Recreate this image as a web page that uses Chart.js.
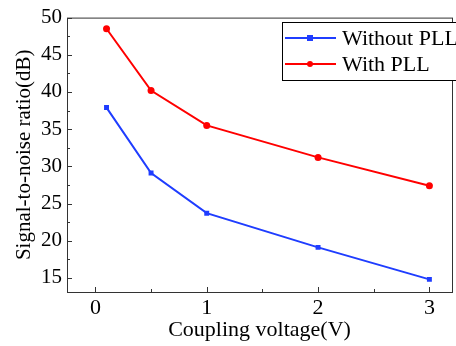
<!DOCTYPE html>
<html>
<head>
<meta charset="utf-8">
<script src="https://cdn.jsdelivr.net/npm/chart.js@4.4.0/dist/chart.umd.min.js"></script>
<style>
  html, body { margin: 0; padding: 0; background: #fff; }
  #wrap { width: 456px; height: 346px; }
</style>
</head>
<body>
<div id="wrap"><canvas id="grafica"></canvas></div>
<script>
const voltajes = [0.1, 0.5, 1, 2, 3];
const sinPLL = [37.9, 29.1, 23.7, 19.1, 14.8];
const conPLL = [48.5, 40.2, 35.5, 31.2, 27.4];
const etiquetas = ['Without PLL', 'With PLL'];
const xTicks = [0, 1, 2, 3];
const yTicks = [15, 20, 25, 30, 35, 40, 45, 50];

const fuente = 'Liberation Serif, Times New Roman, serif';

function puntos(ys) {
  return voltajes.map((x, i) => ({ x: x, y: ys[i] }));
}

// marco, ticks hacia adentro y leyenda con caja
const marco = {
  id: 'marco',
  afterDraw(chart) {
    const { ctx, chartArea: a, scales } = chart;
    const xs = scales.x, ys = scales.y;
    ctx.save();
    ctx.strokeStyle = '#333';
    ctx.lineWidth = 1;
    ctx.strokeRect(a.left + 0.5, a.top + 0.5, a.right - a.left, a.bottom - a.top);

    ctx.beginPath();
    for (let v = 0; v <= 3; v += 0.5) {
      const px = Math.round(xs.getPixelForValue(v)) + 0.5;
      const len = Number.isInteger(v) ? 5 : 3;
      ctx.moveTo(px, a.bottom);
      ctx.lineTo(px, a.bottom - len);
    }
    for (let v = 15; v <= 50; v += 2.5) {
      const py = Math.round(ys.getPixelForValue(v)) + 0.5;
      const len = v % 5 === 0 ? 5 : 3;
      ctx.moveTo(a.left, py);
      ctx.lineTo(a.left + len, py);
    }
    ctx.stroke();

    // leyenda
    const bx = 282, by = 22, bw = 180, bh = 58;
    ctx.strokeStyle = '#000';
    ctx.fillStyle = '#fff';
    ctx.fillRect(bx, by, bw, bh);
    ctx.strokeRect(bx + 0.5, by + 0.5, bw, bh);
    chart.data.datasets.forEach((ds, i) => {
      const ly = 38 + i * 26;
      ctx.strokeStyle = ds.borderColor;
      ctx.lineWidth = 2;
      ctx.beginPath();
      ctx.moveTo(285, ly);
      ctx.lineTo(336, ly);
      ctx.stroke();
      ctx.fillStyle = ds.borderColor;
      if (ds.pointStyle === 'rect') {
        ctx.fillRect(307, ly - 3, 6, 6);
      } else {
        ctx.beginPath();
        ctx.arc(310, ly, 3, 0, Math.PI * 2);
        ctx.fill();
      }
      ctx.fillStyle = '#000';
      ctx.font = '22px ' + fuente;
      ctx.textBaseline = 'middle';
      ctx.fillText(ds.label, 342, ly + 1);
    });
    ctx.restore();
  }
};

new Chart(document.getElementById('grafica'), {
  type: 'scatter',
  data: {
    datasets: [
      {
        label: etiquetas[0],
        data: puntos(sinPLL),
        showLine: true,
        borderColor: '#1f3dff',
        backgroundColor: '#1f3dff',
        borderWidth: 2,
        pointStyle: 'rect',
        pointRadius: 3.5,
        pointBorderWidth: 0
      },
      {
        label: etiquetas[1],
        data: puntos(conPLL),
        showLine: true,
        borderColor: '#ff0000',
        backgroundColor: '#ff0000',
        borderWidth: 2,
        pointStyle: 'circle',
        pointRadius: 3.5,
        pointBorderWidth: 0
      }
    ]
  },
  options: {
    responsive: true,
    maintainAspectRatio: false,
    animation: false,
    layout: { padding: { left: 12, right: 0, top: 17, bottom: 3 } },
    plugins: {
      legend: { display: false },
      tooltip: { enabled: false }
    },
    scales: {
      x: {
        type: 'linear',
        min: -0.255,
        max: 3.203,
        afterBuildTicks: s => { s.ticks = xTicks.map(v => ({ value: v })); },
        afterFit: s => { s.height = 51; },
        grid: { display: false, drawTicks: false },
        border: { display: false },
        ticks: { color: '#000', font: { family: fuente, size: 22 }, padding: 3, maxRotation: 0 },
        title: { display: true, text: 'Coupling voltage(V)', color: '#000', font: { family: fuente, size: 22 }, padding: { top: 0, bottom: 0 } }
      },
      y: {
        min: 13.1,
        max: 50,
        afterBuildTicks: s => { s.ticks = yTicks.map(v => ({ value: v })); },
        afterFit: s => { s.width = 55; },
        grid: { display: false, drawTicks: false },
        border: { display: false },
        ticks: { color: '#000', font: { family: fuente, size: 21 }, padding: 5 },
        title: { display: true, text: 'Signal-to-noise ratio(dB)', color: '#000', font: { family: fuente, size: 21 }, padding: { top: 0, bottom: 0 } }
      }
    }
  },
  plugins: [marco]
});
</script>
</body>
</html>
